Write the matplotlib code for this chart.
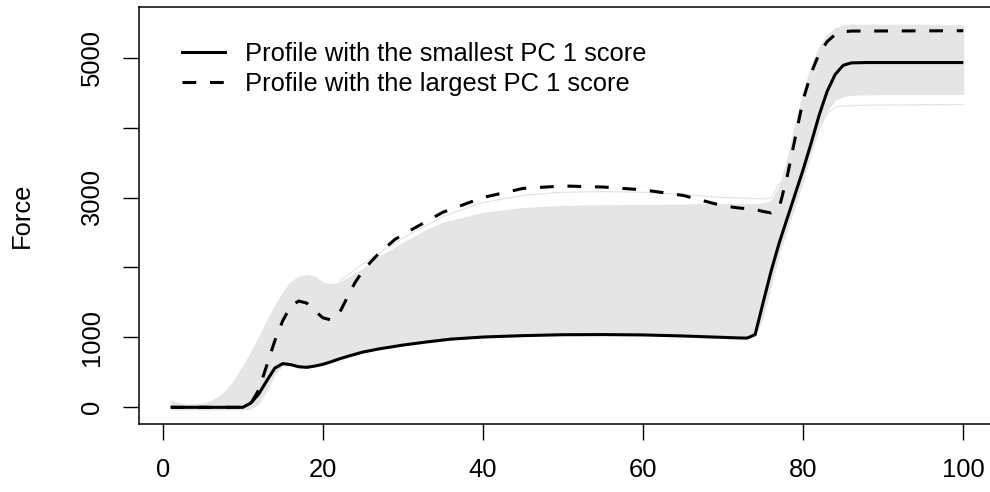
import numpy as np
import matplotlib.pyplot as plt
from matplotlib.lines import Line2D

plt.rcParams['font.family'] = ['Liberation Sans', 'DejaVu Sans']

# profile with the smallest PC 1 score
x_small = [1, 5, 10, 11, 12, 13, 14, 15, 16, 17, 18, 19, 20, 21, 22, 23, 25, 27, 30,
           33, 36, 40, 45, 50, 55, 60, 65, 70, 72, 73, 74, 75, 76, 77, 78, 79, 80,
           81, 82, 83, 84, 85, 86, 88, 100]
y_small = [0, 0, 0, 60, 190, 380, 560, 625, 610, 580, 572, 590, 615, 650, 690, 725, 790,
           835, 890, 935, 975, 1005, 1025, 1038, 1040, 1035, 1020, 1000, 992, 990, 1040,
           1500, 1950, 2350, 2700, 3050, 3400, 3780, 4180, 4520, 4760, 4890, 4925, 4930, 4930]

# profile with the largest PC 1 score
x_large = [1, 5, 10, 11, 12, 13, 14, 15, 16, 17, 18, 19, 20, 21, 22, 23, 24, 25, 26,
           27, 28, 29, 30, 35, 40, 45, 50, 55, 60, 65, 70, 72, 74, 75, 76, 77, 78, 79,
           80, 81, 82, 83, 84, 85, 86, 100]
y_large = [0, 0, 0, 50, 250, 600, 950, 1240, 1450, 1520, 1490, 1380, 1280, 1250, 1330,
           1560, 1780, 1950, 2080, 2200, 2300, 2400, 2470, 2790, 3000, 3130, 3165, 3150,
           3110, 3030, 2880, 2850, 2830, 2800, 2780, 2850, 3300, 3850, 4400, 4780, 5060,
           5230, 5330, 5370, 5380, 5385]

# range covered by the bulk of the other profiles
x_band = [1, 2, 3, 5, 6, 7, 8, 9, 10, 11, 12, 13, 14, 15, 16, 17, 18, 19, 20, 21, 22,
          23, 24, 25, 27, 30, 33, 35, 40, 45, 50, 55, 60, 65, 70, 73, 74, 75, 76, 77, 78,
          79, 80, 81, 82, 83, 84, 85, 86, 90, 95, 100]
band_hi = [100, 60, 40, 50, 90, 150, 250, 400, 580, 780, 1000, 1230, 1450, 1640, 1790,
           1870, 1890, 1870, 1780, 1760, 1780, 1840, 1910, 1980, 2150, 2350, 2540, 2640,
           2780, 2850, 2880, 2890, 2895, 2900, 2905, 2905, 2905, 2910, 2950, 3150, 3550,
           4050, 4500, 4880, 5150, 5330, 5420, 5460, 5470, 5470, 5470, 5460]
band_lo = [-30, -30, -30, -30, -30, -30, -30, -30, -30, -20, 60, 250, 480, 600, 600,
           575, 570, 590, 620, 655, 700, 740, 765, 790, 840, 900, 945, 970, 1020, 1040,
           1055, 1058, 1050, 1035, 1015, 1005, 1030, 1300, 1750, 2200, 2550, 2900, 3250,
           3650, 4000, 4250, 4400, 4450, 4470, 4480, 4480, 4480]

# a few individual profiles outside the bulk
x_high = [22, 25, 30, 35, 40, 45, 50, 55, 60, 65, 70, 75, 76, 77]
y_high = [1800, 2050, 2420, 2730, 2930, 3030, 3075, 3085, 3075, 3045, 3000, 2980, 2990, 3200]
x_low = [74, 75, 76, 77, 78, 79, 80, 81, 82, 83, 84, 85, 88, 100]
y_low = [1050, 1400, 1800, 2200, 2550, 2900, 3250, 3650, 3980, 4200, 4290, 4310, 4320, 4330]

gray = '#e5e5e5'
fs = 18.4

fig = plt.figure(figsize=(9.9, 4.92), dpi=100)
W, H = 990, 492
left, right, top, bottom = 139, 995, 7.3, 424.3
ax = fig.add_axes([left / W, 1 - bottom / H, (right - left) / W, (bottom - top) / H])

ax.fill_between(x_band, band_lo, band_hi, color=gray, lw=0.8, zorder=1)
ax.plot(x_high, y_high, color=gray, lw=0.9, zorder=1)
ax.plot(x_low, y_low, color=gray, lw=0.9, zorder=1)

ax.plot(x_small, y_small, color='black', lw=2.2, zorder=3,
        solid_joinstyle='round', solid_capstyle='butt')
ax.plot(x_large, y_large, color='black', lw=2.2, ls=(0, (4.5, 4.5)), zorder=4,
        dash_joinstyle='round')

ax.set_xlim(-2.96, 103.96)
ax.set_ylim(-22.0 - 0.04 * 5521, 5499 + 0.04 * 5521)

ax.set_xticks([0, 20, 40, 60, 80, 100])
ax.set_yticks([0, 1000, 2000, 3000, 4000, 5000])
ax.set_yticklabels(['0', '1000', '', '3000', '', '5000'], rotation=90, va='center')
ax.tick_params(axis='both', length=11.5, width=1.0, labelsize=fs, direction='out')
ax.tick_params(axis='x', pad=13)
ax.tick_params(axis='y', pad=14)
ax.set_ylabel('Force', fontsize=fs, labelpad=33)

for s in ax.spines.values():
    s.set_linewidth(1.1)

handles = [Line2D([], [], color='black', lw=2.2),
           Line2D([], [], color='black', lw=2.2, ls=(0, (4.5, 4.5)))]
ax.legend(handles, ['Profile with the smallest PC 1 score',
                    'Profile with the largest PC 1 score'],
          loc='upper left', bbox_to_anchor=(182 / W, 1 - 42 / H),
          bbox_transform=fig.transFigure, frameon=False, fontsize=fs,
          handlelength=1.68, handletextpad=0.78, borderpad=0, borderaxespad=0,
          labelspacing=0.25)

fig.savefig('out.png', dpi=100)
